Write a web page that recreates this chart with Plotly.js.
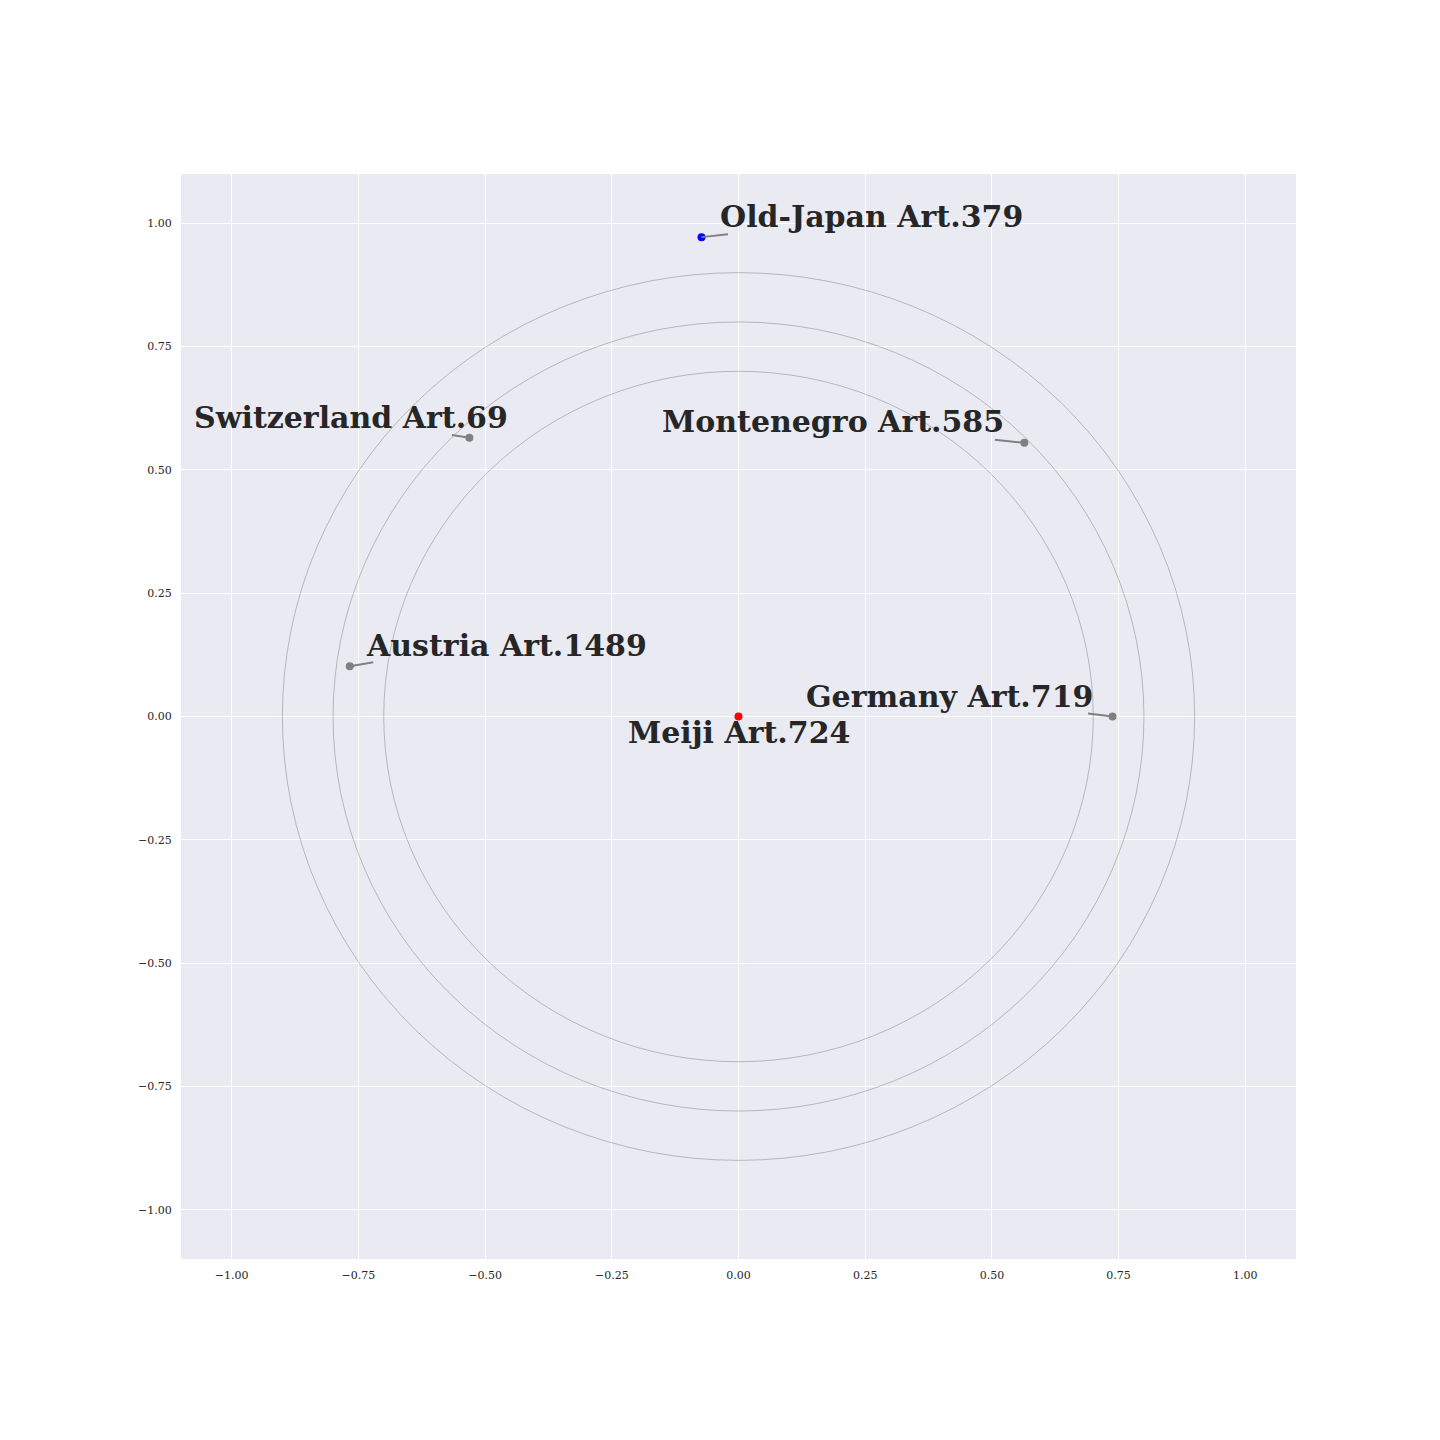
<!DOCTYPE html>
<html>
<head>
<meta charset="utf-8">
<script src="https://cdn.plot.ly/plotly-3.0.1.min.js"></script>
<style>html,body{margin:0;padding:0;background:#fff;}#chart{width:1440px;height:1440px;}</style>
</head>
<body>
<div id="chart"></div>
<script>
// Data
const labels = ["Meiji Art.724", "Old-Japan Art.379", "Switzerland Art.69", "Montenegro Art.585", "Austria Art.1489", "Germany Art.719"];
const xs = [0.0, -0.073, -0.531, 0.564, -0.767, 0.738];
const ys = [0.0, 0.972, 0.565, 0.555, 0.102, 0.0];
const pointColors = ["red", "blue", "grey", "grey", "grey", "grey"];
const circleRadii = [0.7, 0.8, 0.9];
const tickVals = [-1.0, -0.75, -0.5, -0.25, 0.0, 0.25, 0.5, 0.75, 1.0];

// Label placement (pixel offsets from the point to the label centre, y down)
const labelDx = [0, 170, -118, -191, 157, -163];
const labelDy = [16, -21, -20, -21, -21, -20];
// Connector line end (pixel offsets from the point, y down)
const lineDx = [0, 27, -18, -30, 24, -25];
const lineDy = [0, -3, -3, -3, -4, -3];
const showLine = [false, true, true, true, true, true];

const serif = "DejaVu Serif, Liberation Serif, serif";

const trace = {
  type: "scatter",
  mode: "markers",
  x: xs,
  y: ys,
  marker: {color: pointColors, size: 8},
  hoverinfo: "skip",
  showlegend: false
};

const shapes = circleRadii.map(r => ({
  type: "circle",
  xref: "x", yref: "y",
  x0: -r, x1: r, y0: -r, y1: r,
  line: {color: "grey", width: 0.5},
  layer: "between"
}));

const lineAnns = [];
labels.forEach((t, i) => {
  if (!showLine[i]) return;
  lineAnns.push({
    x: xs[i], y: ys[i], xref: "x", yref: "y",
    text: "",
    showarrow: true,
    arrowhead: 0,
    arrowwidth: 2,
    arrowcolor: "grey",
    ax: lineDx[i], ay: lineDy[i],
    standoff: 0,
    borderpad: 0
  });
});

const textAnns = labels.map((t, i) => ({
  x: xs[i], y: ys[i], xref: "x", yref: "y",
  text: "<b>" + t + "</b>",
  showarrow: false,
  xshift: labelDx[i],
  yshift: -labelDy[i],
  xanchor: "center", yanchor: "middle",
  font: {family: serif, size: 30, color: "#262626"}
}));

const axisCommon = {
  range: [-1.1, 1.1],
  tickvals: tickVals,
  tickformat: ".2f",
  showgrid: true,
  gridcolor: "white",
  gridwidth: 1,
  zeroline: true,
  zerolinecolor: "white",
  zerolinewidth: 1,
  showline: false,
  ticks: "outside",
  ticklen: 6,
  tickcolor: "rgba(0,0,0,0)",
  tickfont: {family: serif, size: 11, color: "#262626"},
  fixedrange: true
};

const layout = {
  width: 1440, height: 1440,
  margin: {l: 181, r: 144, t: 174, b: 181, pad: 0},
  paper_bgcolor: "white",
  plot_bgcolor: "#EAEAF2",
  xaxis: Object.assign({}, axisCommon),
  yaxis: Object.assign({}, axisCommon),
  shapes: shapes,
  annotations: lineAnns.concat(textAnns),
  showlegend: false
};

Plotly.newPlot("chart", [trace], layout, {displayModeBar: false, staticPlot: true});
</script>
</body>
</html>
